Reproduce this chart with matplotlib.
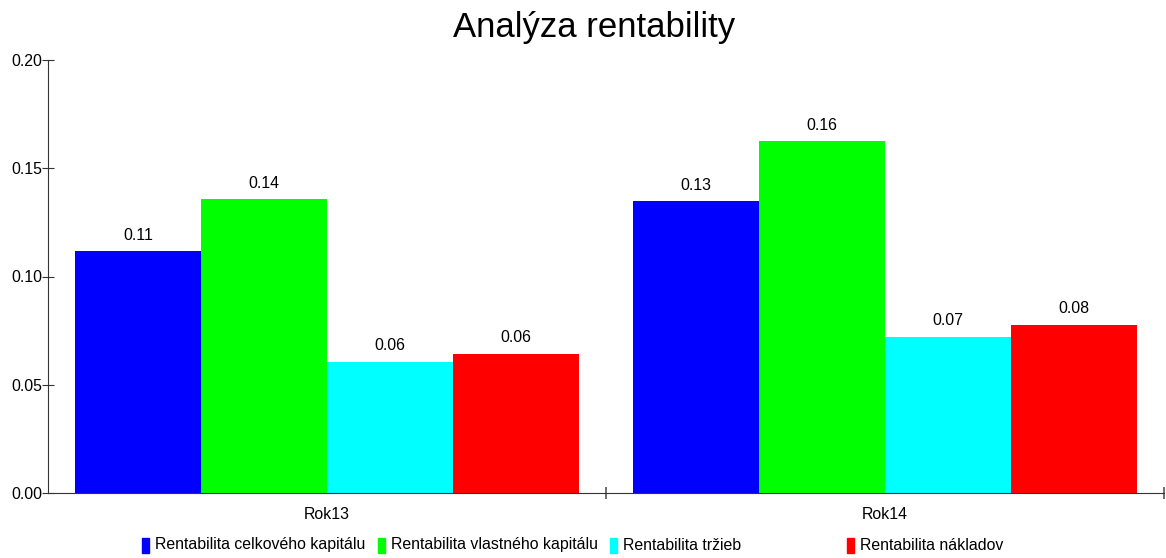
import matplotlib
matplotlib.use("Agg")
import matplotlib.pyplot as plt
from matplotlib.patches import Rectangle
import numpy as np

plt.rcParams['font.family'] = ['Liberation Sans', 'DejaVu Sans']

title = "Analýza rentability"
categories = ["Rok13", "Rok14"]
series_names = ["Rentabilita celkového kapitálu", "Rentabilita vlastného kapitálu",
                "Rentabilita tržieb", "Rentabilita nákladov"]
series_values = [
    [0.1116, 0.1347],
    [0.1356, 0.1625],
    [0.0606, 0.0722],
    [0.0644, 0.0778],
]
colors = ["#0000FF", "#00FF00", "#00FFFF", "#FF0000"]
yticks = [0.00, 0.05, 0.10, 0.15, 0.20]

FS = 11.4
W, H = 1166, 558
fig = plt.figure(figsize=(W / 100, H / 100), dpi=100)
ax = fig.add_axes([48 / W, 1 - 493 / H, (1164 - 48) / W, (493 - 60) / H])

n = len(series_names)
bar_w = 126 / 558
margin = (1 - n * bar_w) / 2
for i, (name, vals, c) in enumerate(zip(series_names, series_values, colors)):
    xs = np.arange(len(categories)) + margin + i * bar_w
    bars = ax.bar(xs, vals, width=bar_w, align='edge', color=c, edgecolor='none')
    for b, v in zip(bars, vals):
        ax.annotate(f"{v:.2f}", (b.get_x() + b.get_width() / 2, v), xytext=(0, 6),
                    textcoords='offset points', ha='center', va='bottom', fontsize=FS)

ax.set_xlim(0, len(categories))
ax.set_ylim(0, 0.20)
ax.set_yticks(yticks)
ax.set_yticklabels([f"{t:.2f}" for t in yticks], fontsize=FS)
ax.set_xticks(np.arange(len(categories)) + 0.5)
ax.set_xticklabels(categories, fontsize=FS)
ax.tick_params(axis='x', length=0, pad=10)
ax.set_xticks(np.arange(1, len(categories) + 1), minor=True)
ax.tick_params(axis='x', which='minor', length=9, direction='inout', color='#555555', width=1.2)
ax.tick_params(axis='y', length=8, direction='inout', color='#333333', pad=0)
for s in ['top', 'right']:
    ax.spines[s].set_visible(False)
for s in ['left', 'bottom']:
    ax.spines[s].set_color('#333333')

fig.text(594 / W, 1 - 27 / H, title, ha='center', va='center', fontsize=25)

# legend
lx = [142, 378, 610, 847]
ly = 545
for x, name, c in zip(lx, series_names, colors):
    fig.patches.append(Rectangle((x / W, 1 - (ly + 8) / H), 7 / W, 15 / H,
                                 transform=fig.transFigure, color=c))
    fig.text((x + 13) / W, 1 - ly / H, name, ha='left', va='center', fontsize=FS)

fig.savefig("out.png", dpi=100)
